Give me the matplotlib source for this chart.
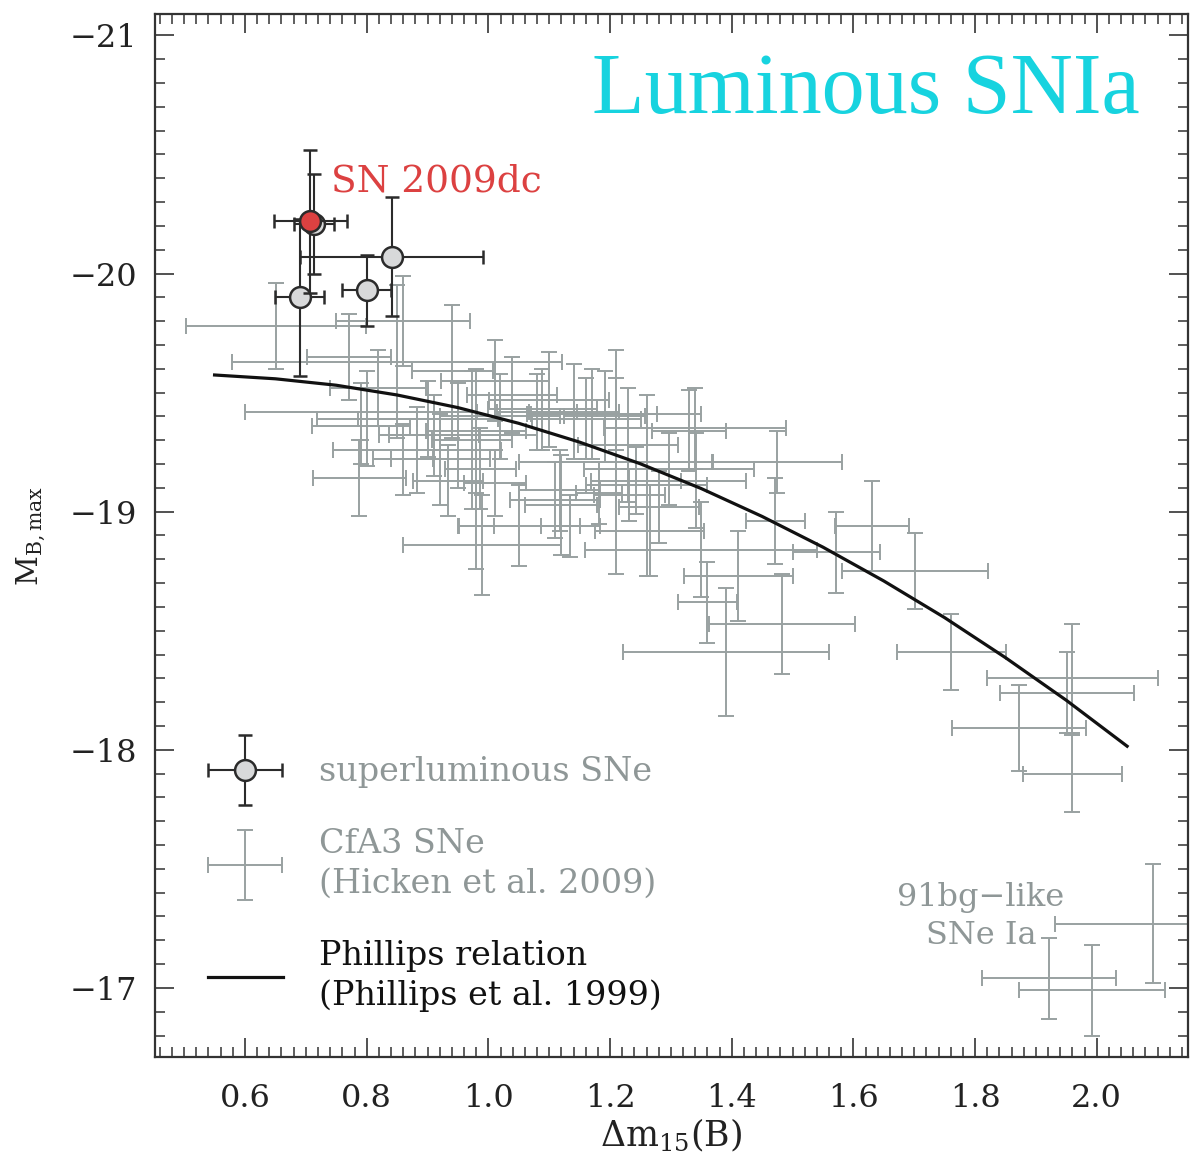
import numpy as np
import matplotlib
matplotlib.use("Agg")
import matplotlib.pyplot as plt
from matplotlib.ticker import MultipleLocator
from matplotlib.legend_handler import HandlerErrorbar

plt.rcParams["font.family"] = ["DejaVu Serif"]
plt.rcParams["mathtext.fontset"] = "dejavuserif"

# CfA3 SNe (Hicken et al. 2009)
cfa_x = [0.651, 0.860, 1.210, 1.391, 1.482, 1.360, 1.411, 1.472, 1.350, 1.572,
         1.631, 1.701, 1.761, 1.872, 1.960, 1.951, 1.960, 0.990, 0.980, 0.788,
         1.011, 0.771, 0.850, 0.819, 0.791, 0.801, 0.883, 0.901, 0.911, 0.921,
         0.950, 0.980, 0.941, 0.791, 1.019, 1.039, 1.080, 1.089, 1.100, 1.141,
         1.161, 1.171, 1.191, 1.230, 1.260, 1.297, 1.330, 1.340, 1.475, 1.051,
         1.120, 1.011, 1.342, 1.117, 1.232, 1.243, 1.210, 1.281, 1.265, 1.182,
         1.135, 1.110, 0.934, 0.860, 0.973, 0.987]
cfa_y = [-19.78, -19.80, -19.21, -18.41, -18.53, -18.62, -18.73, -18.96, -18.84, -18.83,
         -18.94, -18.75, -18.41, -18.09, -18.30, -18.24, -17.90, -18.86, -18.94, -19.14,
         -19.55, -19.65, -19.63, -19.52, -19.42, -19.39, -19.26, -19.39, -19.32, -19.22,
         -19.32, -19.34, -19.59, -19.36, -19.40, -19.49, -19.42, -19.43, -19.47, -19.42,
         -19.39, -19.41, -19.40, -19.28, -19.11, -19.18, -19.34, -19.35, -19.21, -18.94,
         -19.03, -19.12, -19.13, -19.09, -19.07, -19.13, -19.41, -19.02, -18.92, -19.08,
         -18.94, -19.05, -19.13, -19.22, -19.30, -19.18]
cfa_xerr = [0.148, 0.110, 0.160, 0.169, 0.120, 0.049, 0.090, 0.049, 0.191, 0.071,
            0.061, 0.120, 0.090, 0.110, 0.140, 0.110, 0.081, 0.130, 0.030, 0.076,
            0.089, 0.069, 0.271, 0.079, 0.191, 0.082, 0.138, 0.115, 0.074, 0.081,
            0.130, 0.082, 0.066, 0.081, 0.099, 0.074, 0.066, 0.090, 0.099, 0.074,
            0.090, 0.107, 0.066, 0.082, 0.100, 0.140, 0.061, 0.150, 0.107, 0.099,
            0.059, 0.051, 0.082, 0.066, 0.058, 0.074, 0.140, 0.066, 0.090, 0.038,
            0.049, 0.074, 0.058, 0.049, 0.066, 0.058]
cfa_yerr = [0.18, 0.19, 0.47, 0.27, 0.21, 0.17, 0.19, 0.18, 0.20, 0.17,
            0.19, 0.16, 0.16, 0.18, 0.23, 0.17, 0.16, 0.21, 0.18, 0.16,
            0.17, 0.18, 0.32, 0.16, 0.12, 0.20, 0.18, 0.16, 0.17, 0.19,
            0.22, 0.26, 0.28, 0.16, 0.18, 0.16, 0.16, 0.17, 0.20, 0.20,
            0.17, 0.19, 0.19, 0.24, 0.38, 0.15, 0.17, 0.17, 0.13, 0.17,
            0.21, 0.14, 0.20, 0.17, 0.11, 0.14, 0.15, 0.15, 0.19, 0.13,
            0.13, 0.16, 0.15, 0.15, 0.29, 0.17]

# 91bg-like SNe Ia
bg_x = [2.092, 1.921, 1.992]
bg_y = [-17.27, -17.04, -16.99]
bg_xerr = [0.161, 0.110, 0.120]
bg_yerr = [0.25, 0.17, 0.19]

# superluminous SNe
sl_x = [0.690, 0.714, 0.800, 0.841]
sl_y = [-19.90, -20.21, -19.93, -20.07]
sl_xerr = [0.04, 0.033, 0.04, 0.15]
sl_yerr = [0.33, 0.21, 0.15, 0.25]

# SN 2009dc
dc_x = [0.707]
dc_y = [-20.22]
dc_xerr = [0.06]
dc_yerr = [0.30]

# Phillips relation (Phillips et al. 1999)
ph_x = [0.55, 0.65, 0.75, 0.85, 0.95, 1.05, 1.15, 1.25, 1.35, 1.45, 1.55,
        1.65, 1.75, 1.85, 1.95, 2.05]
ph_y = [-19.574, -19.558, -19.531, -19.490, -19.437, -19.371, -19.292, -19.201,
        -19.097, -18.980, -18.851, -18.709, -18.555, -18.387, -18.208, -18.015]

gray = "#99a1a1"
dark = "#2b2b2b"
txtgray = "#8f9797"

fig = plt.figure(figsize=(11.92, 11.67), dpi=100)
ax = fig.add_axes([0.130, 0.0943, 0.8666, 0.8937])

cfa = ax.errorbar(cfa_x, cfa_y, xerr=cfa_xerr, yerr=cfa_yerr, fmt="none",
                  ecolor=gray, elinewidth=1.4, capsize=6, capthick=1.4, zorder=2)
ax.errorbar(bg_x, bg_y, xerr=bg_xerr, yerr=bg_yerr, fmt="none",
            ecolor=gray, elinewidth=1.4, capsize=6, capthick=1.4, zorder=2)
line, = ax.plot(ph_x, ph_y, color="#111111", lw=2.3, zorder=3)
sl = ax.errorbar(sl_x, sl_y, xerr=sl_xerr, yerr=sl_yerr, fmt="o", ms=15,
                 mfc="#d8d9da", mec=dark, mew=1.8, ecolor=dark, elinewidth=1.5,
                 capsize=5, capthick=1.5, zorder=4)
ax.errorbar(dc_x, dc_y, xerr=dc_xerr, yerr=dc_yerr, fmt="o", ms=15,
            mfc="#dc4141", mec=dark, mew=1.8, ecolor=dark, elinewidth=1.5,
            capsize=5, capthick=1.5, zorder=5)

ax.set_xlim(0.452, 2.150)
ax.set_ylim(-16.71, -21.09)
ax.xaxis.set_minor_locator(MultipleLocator(0.02))
ax.yaxis.set_minor_locator(MultipleLocator(0.1))
ax.set_xticks([0.6, 0.8, 1.0, 1.2, 1.4, 1.6, 1.8, 2.0])
ax.set_xticklabels(["0.6", "0.8", "1.0", "1.2", "1.4", "1.6", "1.8", "2.0"])
ax.set_yticks([-21, -20, -19, -18, -17])
ax.set_yticklabels(["\u221221", "\u221220", "\u221219", "\u221218", "\u221217"])
ax.tick_params(which="both", direction="in", top=True, right=True,
               color="#333333")
ax.tick_params(which="major", length=14, width=1.2)
ax.tick_params(which="minor", length=7, width=1.1)
ax.tick_params(axis="x", which="major", labelsize=23, pad=19, labelcolor="#222222")
ax.tick_params(axis="y", which="major", labelsize=23, pad=13, labelcolor="#222222")
for s in ax.spines.values():
    s.set_linewidth(1.6)
    s.set_color("#333333")

ax.set_xlabel(r"$\Delta$m$_{15}$(B)", fontsize=25, color="#222222")
ax.xaxis.set_label_coords(0.5, -0.058)
ax.set_ylabel(r"M$_{\mathrm{B,max}}$", fontsize=21, color="#222222")
ax.yaxis.set_label_coords(-0.104, 0.5)

ax.text(0.9535, 0.905, "Luminous SNIa", transform=ax.transAxes, ha="right",
        va="baseline", fontsize=62, color="#17d3df",
        family=["Liberation Serif", "DejaVu Serif"])
ax.text(dc_x[0] + 0.034, -20.345, "SN 2009dc", ha="left", va="baseline",
        fontsize=27, color="#dc4141")
ax.text(1.81, -17.30, "91bg\u2212like\nSNe Ia", ha="center", va="center",
        fontsize=23, color=txtgray, linespacing=1.3)

leg = ax.legend([sl, cfa, line],
                ["superluminous SNe", "CfA3 SNe\n(Hicken et al. 2009)",
                 "Phillips relation\n(Phillips et al. 1999)"],
                loc="lower left", bbox_to_anchor=(0.051, 0.043), frameon=False,
                fontsize=24, handlelength=2.25, handletextpad=1.1,
                labelspacing=1.2, borderpad=0, borderaxespad=0,
                handler_map={type(sl): HandlerErrorbar(xerr_size=1.1,
                                                       yerr_size=1.05)})
for t, c in zip(leg.get_texts(), [txtgray, txtgray, "#111111"]):
    t.set_color(c)
    t.set_linespacing(1.3)

fig.savefig("out.png", dpi=100)
